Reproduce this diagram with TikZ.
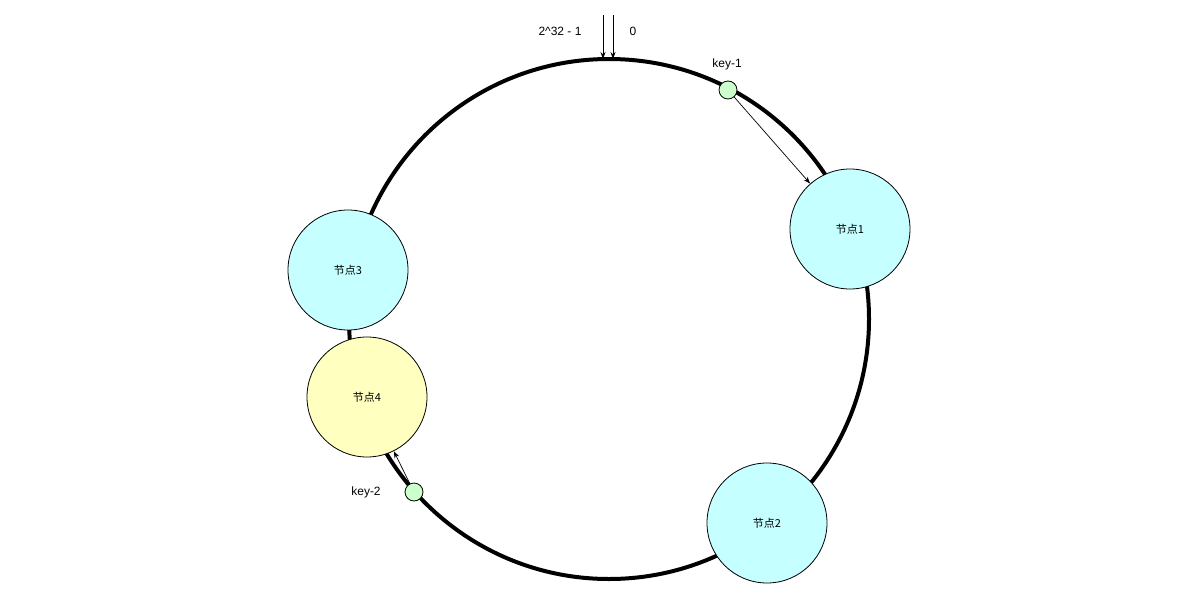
\documentclass[tikz,border=0pt]{standalone}
\usepackage{fontspec}
\setmainfont{Liberation Sans}
\newfontfamily\cjk{Noto Sans CJK SC}
\usetikzlibrary{arrows.meta}
\begin{document}
\begin{tikzpicture}[x=1pt,y=-1pt,
  big/.style={circle,draw,line width=0.8pt,minimum size=120pt,inner sep=0pt,font=\cjk\fontsize{11}{13}\selectfont},
  key/.style={circle,draw,line width=0.8pt,fill=green!25,minimum size=18pt,inner sep=0pt},
  lbl/.style={font=\fontsize{12}{14}\selectfont},
  arr/.style={-{Stealth[length=7pt,width=5pt]},line width=0.7pt}]
\useasboundingbox (0,0) rectangle (1200,600);
\draw[line width=4pt] (609,319) circle[radius=260];
\node[big,fill={rgb,255:red,197;green,255;blue,255}] (n1) at (850,229) {节点1};
\node[big,fill={rgb,255:red,197;green,255;blue,255}] (n2) at (767,523) {节点2};
\node[big,fill={rgb,255:red,197;green,255;blue,255}] (n3) at (348,270) {节点3};
\node[big,fill={rgb,255:red,255;green,255;blue,192}] (n4) at (367,397) {节点4};
\node[key,fill={rgb,255:red,204;green,255;blue,204}] (k1) at (728,90) {};
\node[key,fill={rgb,255:red,204;green,255;blue,204}] (k2) at (414,492) {};
\node[lbl] (l1) at (727,64) {key-1};
\node[lbl] (l2) at (366,492) {key-2};
\draw[arr] (k1) -- (n1);
\draw[arr] (k2) -- (n4);
\coordinate (a1) at (603,15); \coordinate (a1e) at (603,59);
\coordinate (a2) at (613,15); \coordinate (a2e) at (613,59);
\draw[arr] (a1) -- (a1e);
\draw[arr] (a2) -- (a2e);
\node[lbl] (t1) at (560,31) {2\textasciicircum 32 - 1};
\node[lbl] (t2) at (633,31) {0};
\end{tikzpicture}
\end{document}
